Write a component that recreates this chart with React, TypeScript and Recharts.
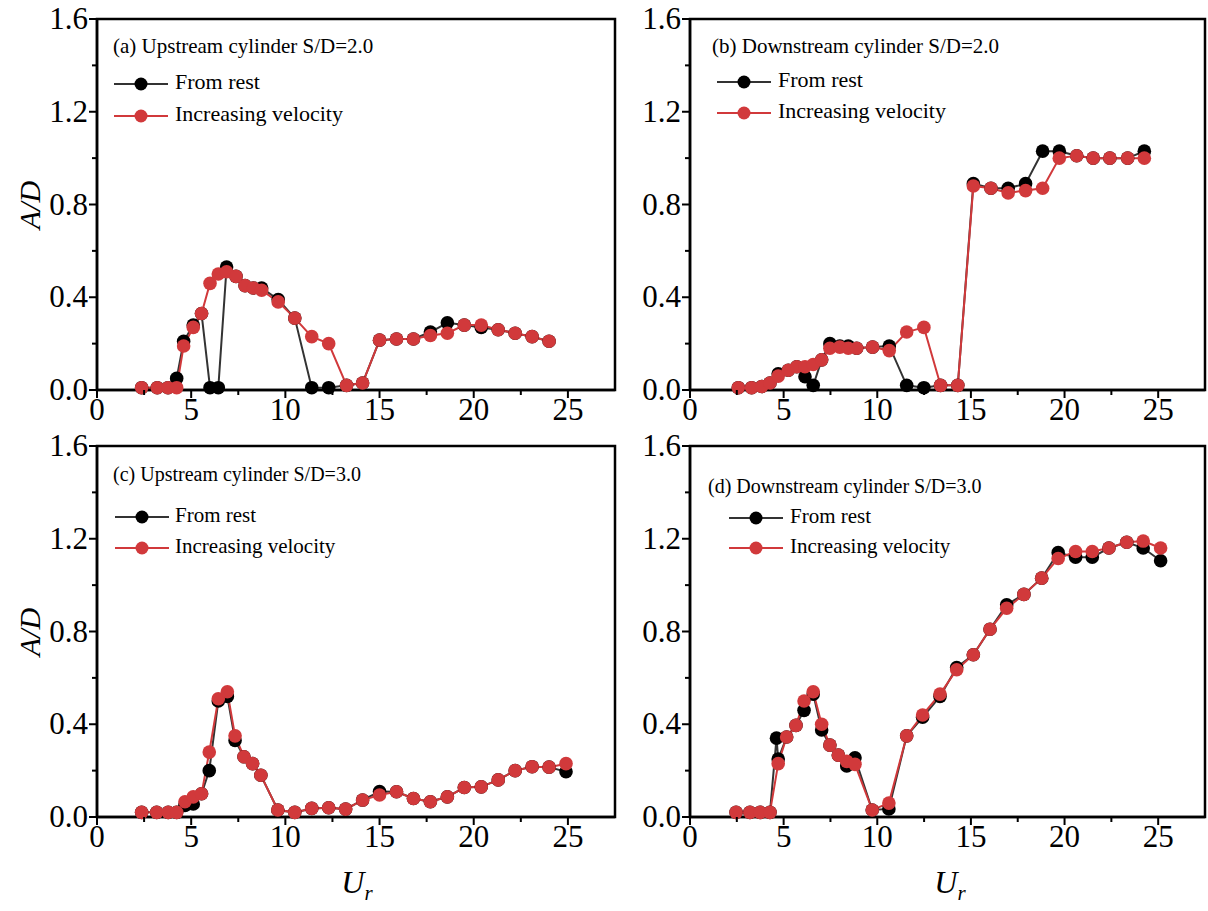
import { LineChart, Line, XAxis, YAxis, ReferenceArea } from 'recharts';

// reduced velocity and amplitude ratio for each case
const urA = [2.37, 3.2, 3.77, 4.23, 4.6, 5.11, 5.55, 6.0, 6.44, 6.88, 7.38, 7.86, 8.3, 8.74, 9.62, 10.5, 11.4, 12.3, 13.25, 14.1, 15.0, 15.9, 16.8, 17.7, 18.6, 19.5, 20.4, 21.3, 22.2, 23.1, 24.0];
const restA = [0.01, 0.01, 0.01, 0.05, 0.21, 0.28, 0.33, 0.01, 0.01, 0.53, 0.49, 0.45, 0.44, 0.44, 0.39, 0.31, 0.01, 0.01, 0.02, 0.03, 0.215, 0.22, 0.22, 0.25, 0.29, 0.28, 0.27, 0.26, 0.245, 0.23, 0.21];
const incA = [0.01, 0.01, 0.01, 0.01, 0.19, 0.27, 0.33, 0.46, 0.5, 0.51, 0.49, 0.45, 0.44, 0.43, 0.38, 0.31, 0.23, 0.2, 0.02, 0.03, 0.215, 0.22, 0.22, 0.235, 0.245, 0.28, 0.28, 0.26, 0.245, 0.23, 0.21];

const urB = [2.58, 3.29, 3.83, 4.27, 4.71, 5.25, 5.7, 6.14, 6.58, 7.03, 7.47, 8.0, 8.45, 8.9, 9.75, 10.64, 11.57, 12.49, 13.38, 14.3, 15.13, 16.07, 16.99, 17.92, 18.83, 19.72, 20.65, 21.53, 22.42, 23.37, 24.26];
const restB = [0.01, 0.01, 0.015, 0.03, 0.07, 0.085, 0.1, 0.057, 0.02, 0.13, 0.2, 0.19, 0.19, 0.18, 0.185, 0.19, 0.02, 0.01, 0.02, 0.02, 0.89, 0.87, 0.87, 0.89, 1.03, 1.03, 1.01, 1.0, 1.0, 1.0, 1.03];
const incB = [0.01, 0.01, 0.015, 0.03, 0.06, 0.085, 0.1, 0.1, 0.11, 0.13, 0.18, 0.185, 0.18, 0.18, 0.185, 0.17, 0.25, 0.27, 0.02, 0.02, 0.88, 0.87, 0.85, 0.86, 0.87, 1.0, 1.01, 1.0, 1.0, 1.0, 1.0];

const urC = [2.37, 3.17, 3.78, 4.23, 4.67, 5.11, 5.55, 5.96, 6.44, 6.92, 7.33, 7.8, 8.26, 8.7, 9.6, 10.5, 11.4, 12.3, 13.2, 14.1, 15.0, 15.9, 16.8, 17.7, 18.6, 19.5, 20.4, 21.3, 22.2, 23.1, 24.0, 24.9];
const restC = [0.02, 0.02, 0.02, 0.02, 0.05, 0.056, 0.1, 0.2, 0.5, 0.52, 0.33, 0.26, 0.23, 0.18, 0.03, 0.02, 0.037, 0.04, 0.034, 0.073, 0.11, 0.109, 0.08, 0.066, 0.087, 0.127, 0.13, 0.16, 0.2, 0.217, 0.215, 0.195];
const incC = [0.02, 0.02, 0.02, 0.02, 0.066, 0.087, 0.1, 0.28, 0.51, 0.54, 0.35, 0.26, 0.23, 0.18, 0.03, 0.02, 0.037, 0.04, 0.034, 0.073, 0.095, 0.109, 0.08, 0.066, 0.087, 0.127, 0.13, 0.16, 0.2, 0.217, 0.215, 0.23];

const urDRest = [2.46, 3.2, 3.74, 4.27, 4.62, 4.71, 5.16, 5.66, 6.09, 6.58, 7.03, 7.47, 7.92, 8.37, 8.81, 9.73, 10.62, 11.57, 12.42, 13.35, 14.24, 15.13, 16.02, 16.91, 17.83, 18.78, 19.66, 20.59, 21.48, 22.37, 23.32, 24.2, 25.13];
const restD = [0.02, 0.02, 0.02, 0.02, 0.34, 0.25, 0.345, 0.395, 0.46, 0.53, 0.375, 0.31, 0.267, 0.22, 0.255, 0.03, 0.035, 0.35, 0.43, 0.52, 0.645, 0.7, 0.81, 0.915, 0.96, 1.03, 1.14, 1.12, 1.12, 1.16, 1.185, 1.16, 1.105];
const urDInc = [2.46, 3.2, 3.74, 4.27, 4.71, 5.16, 5.66, 6.09, 6.58, 7.03, 7.47, 7.92, 8.37, 8.81, 9.73, 10.62, 11.57, 12.42, 13.35, 14.24, 15.13, 16.02, 16.91, 17.83, 18.78, 19.66, 20.59, 21.48, 22.37, 23.32, 24.2, 25.13];
const incD = [0.02, 0.02, 0.02, 0.02, 0.23, 0.345, 0.395, 0.5, 0.54, 0.4, 0.31, 0.267, 0.24, 0.227, 0.03, 0.06, 0.35, 0.44, 0.53, 0.635, 0.7, 0.81, 0.9, 0.96, 1.03, 1.115, 1.145, 1.145, 1.16, 1.185, 1.19, 1.16];

const xTicks = [0, 2.5, 5, 7.5, 10, 12.5, 15, 17.5, 20, 22.5, 25];
const yTicks = [0, 0.2, 0.4, 0.6, 0.8, 1.0, 1.2, 1.4, 1.6];

const titles = [
  '(a) Upstream cylinder S/D=2.0',
  '(b) Downstream cylinder S/D=2.0',
  '(c) Upstream cylinder S/D=3.0',
  '(d) Downstream cylinder S/D=3.0',
];
const seriesNames = ['From rest', 'Increasing velocity'];

const FONT = "'Liberation Serif', 'Times New Roman', serif";
const RED = '#d1393b';
const BLACK = '#000';
const PAD_TOP = 25;

type Pt = { ur: number; ad: number };
const toPoints = (ur: number[], ad: number[]): Pt[] => ur.map((u, i) => ({ ur: u, ad: ad[i] }));

const XTick = (props: any) => {
  const { x, y, payload } = props;
  const major = payload.value % 5 === 0;
  return (
    <g>
      <line x1={x} x2={x} y1={y} y2={y + (major ? 8 : 5)} stroke="#000" strokeWidth={2} />
      {major && (
        <text x={x} y={y + 30} textAnchor="middle" fontSize={31} fontFamily={FONT} fill="#000">
          {payload.value}
        </text>
      )}
    </g>
  );
};

const YTick = (props: any) => {
  const { x, y, payload } = props;
  const major = Math.round(payload.value * 10) % 4 === 0;
  return (
    <g>
      <line x1={x} x2={x - (major ? 8 : 5)} y1={y} y2={y} stroke="#000" strokeWidth={2} />
      {major && (
        <text x={x - 9} y={y + 10} textAnchor="end" fontSize={31} fontFamily={FONT} fill="#000">
          {payload.value.toFixed(1)}
        </text>
      )}
    </g>
  );
};

interface PanelProps {
  left: number;
  top: number;
  width: number;
  height: number;
  rest: Pt[];
  inc: Pt[];
}

const Panel = ({ left, top, width, height, rest, inc }: PanelProps) => (
  <div style={{ position: 'absolute', left: left - 90, top: top - PAD_TOP }}>
    <LineChart
      width={width + 100}
      height={height + PAD_TOP + 55}
      margin={{ top: PAD_TOP, right: 10, bottom: 0, left: 0 }}
    >
      <XAxis
        dataKey="ur"
        type="number"
        domain={[0, 27.5]}
        ticks={xTicks}
        interval={0}
        height={55}
        tickSize={0}
        tickMargin={0}
        tick={<XTick />}
        axisLine={{ stroke: '#000', strokeWidth: 2.5 }}
        allowDuplicatedCategory={false}
      />
      <YAxis
        type="number"
        domain={[0, 1.6]}
        ticks={yTicks}
        interval={0}
        width={90}
        tickSize={0}
        tickMargin={0}
        tick={<YTick />}
        axisLine={{ stroke: '#000', strokeWidth: 2.5 }}
      />
      <ReferenceArea x1={0} x2={27.5} y1={0} y2={1.6} fill="none" stroke="#000" strokeWidth={2.5} />
      <Line
        data={rest}
        dataKey="ad"
        stroke="#333"
        strokeWidth={2}
        dot={{ r: 6.8, fill: BLACK, stroke: BLACK, strokeWidth: 0 }}
        activeDot={false}
        isAnimationActive={false}
      />
      <Line
        data={inc}
        dataKey="ad"
        stroke={RED}
        strokeWidth={2}
        dot={{ r: 6.8, fill: RED, stroke: RED, strokeWidth: 0 }}
        activeDot={false}
        isAnimationActive={false}
      />
    </LineChart>
  </div>
);

interface LegendProps {
  title: string;
  titleX: number;
  titleY: number;
  rowY: number[];
  sampleX: number;
  textX: number;
  fontSize: number;
}

const Sample = ({ color, line, x, y }: { color: string; line: string; x: number; y: number }) => (
  <svg style={{ position: 'absolute', left: x, top: y - 8 }} width={54} height={16}>
    <line x1={0} x2={54} y1={8} y2={8} stroke={line} strokeWidth={2} />
    <circle cx={27} cy={8} r={6.5} fill={color} />
  </svg>
);

const Label = ({ x, y, size, children }: { x: number; y: number; size: number; children: any }) => (
  <div
    style={{
      position: 'absolute',
      left: x,
      top: y - size / 2 - 2,
      fontSize: size,
      lineHeight: `${size}px`,
      fontFamily: FONT,
      whiteSpace: 'nowrap',
      color: '#000',
    }}
  >
    {children}
  </div>
);

const PanelLegend = ({ title, titleX, titleY, rowY, sampleX, textX, fontSize }: LegendProps) => (
  <>
    <Label x={titleX} y={titleY} size={fontSize - 1}>{title}</Label>
    <Sample color={BLACK} line="#333" x={sampleX} y={rowY[0]} />
    <Label x={textX} y={rowY[0]} size={fontSize}>{seriesNames[0]}</Label>
    <Sample color={RED} line={RED} x={sampleX} y={rowY[1]} />
    <Label x={textX} y={rowY[1]} size={fontSize}>{seriesNames[1]}</Label>
  </>
);

const YTitle = ({ y }: { y: number }) => (
  <div
    style={{
      position: 'absolute',
      left: 30,
      top: y,
      transform: 'translate(-50%, -50%) rotate(-90deg)',
      fontFamily: FONT,
      fontStyle: 'italic',
      fontSize: 30,
      whiteSpace: 'nowrap',
    }}
  >
    A/D
  </div>
);

const XTitle = ({ x }: { x: number }) => (
  <div
    style={{
      position: 'absolute',
      left: x,
      top: 885,
      transform: 'translate(-50%, -50%)',
      fontFamily: FONT,
      fontStyle: 'italic',
      fontSize: 32,
      whiteSpace: 'nowrap',
    }}
  >
    U<sub style={{ fontSize: 21 }}>r</sub>
  </div>
);

export default function App() {
  return (
    <div
      style={{
        position: 'absolute',
        left: 0,
        top: 0,
        width: 1208,
        height: 911,
        background: '#fff',
        overflow: 'hidden',
      }}
    >
      <Panel left={97} top={19} width={518} height={371} rest={toPoints(urA, restA)} inc={toPoints(urA, incA)} />
      <Panel left={690} top={19} width={515} height={371} rest={toPoints(urB, restB)} inc={toPoints(urB, incB)} />
      <Panel left={97} top={446} width={518} height={371} rest={toPoints(urC, restC)} inc={toPoints(urC, incC)} />
      <Panel left={690} top={446} width={515} height={371} rest={toPoints(urDRest, restD)} inc={toPoints(urDInc, incD)} />

      <PanelLegend title={titles[0]} titleX={113} titleY={48} rowY={[84, 116]} sampleX={114} textX={175} fontSize={22} />
      <PanelLegend title={titles[1]} titleX={712} titleY={48} rowY={[82, 113]} sampleX={717} textX={778} fontSize={22} />
      <PanelLegend title={titles[2]} titleX={113} titleY={476} rowY={[517, 548]} sampleX={115} textX={175} fontSize={21} />
      <PanelLegend title={titles[3]} titleX={708} titleY={488} rowY={[518, 548]} sampleX={729} textX={790} fontSize={21} />

      <YTitle y={205} />
      <YTitle y={632} />
      <XTitle x={357} />
      <XTitle x={950} />
    </div>
  );
}
